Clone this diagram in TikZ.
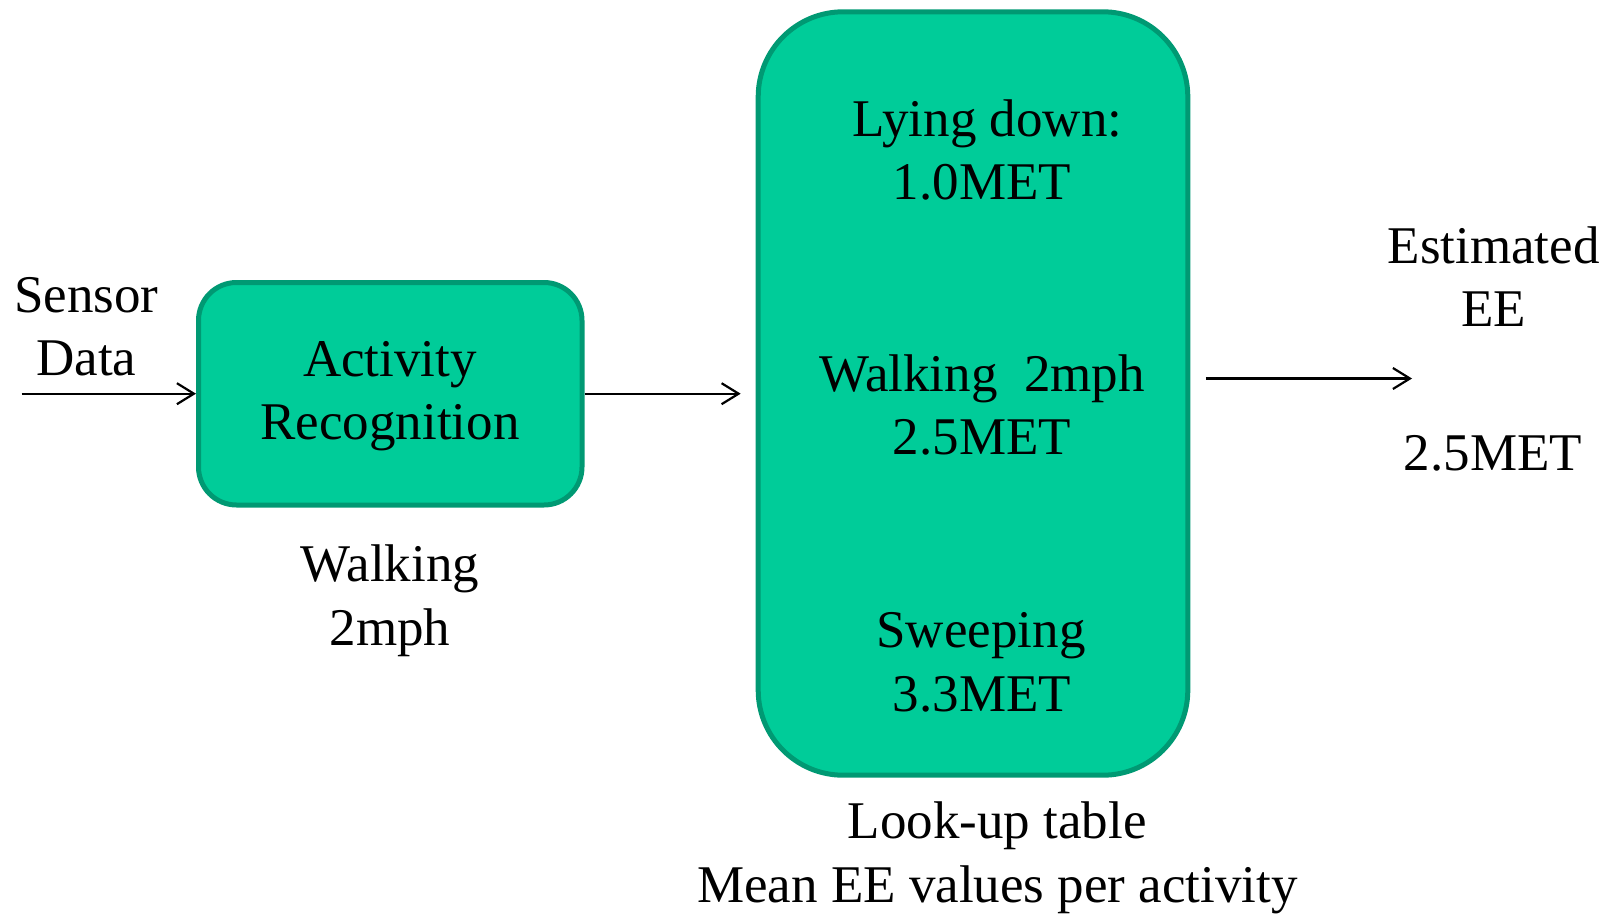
\documentclass[tikz,border=0pt]{standalone}
\usepackage{fontspec}
\setmainfont{Liberation Serif}
\usetikzlibrary{arrows.meta}
\definecolor{boxfill}{RGB}{0,204,153}
\definecolor{boxline}{RGB}{0,153,115}
\tikzset{
  block/.style={draw=boxline, fill=boxfill, line width=5pt, inner sep=0pt},
  txt/.style={inner sep=0pt, anchor=base, font=\fontsize{53}{63.8}\selectfont},
  flow/.style={line width=2.2pt, -{Straight Barb[length=17pt,width=21pt]}}
}
\begin{document}
\begin{tikzpicture}[x=1pt,y=-1pt]
\useasboundingbox (0,0) rectangle (1613,915);

% processing blocks
\node[block, rounded corners=38pt, minimum width=383.5pt, minimum height=222.5pt] (ar) at (390.25,393.75) {};
\node[block, rounded corners=85pt, minimum width=429.6pt, minimum height=763.4pt] (lut) at (973,393.5) {};

% input label
\node[txt] (sensA) at (86.4,312) {Sensor};
\node[txt] (sensB) at (86.4,375) {Data};

% activity recognition block text
\node[txt] (arA) at (390,376) {Activity};
\node[txt] (arB) at (390,439) {Recognition};
\node[txt] (wkA) at (390,581) {Walking};
\node[txt] (wkB) at (390,645) {2mph};

% look-up table entries
\node[txt] (lyA) at (987.6,136) {Lying down:};
\node[txt] (lyB) at (982,199.6) {1.0MET};
\node[txt] (waA) at (982,391) {Walking\ \ 2mph};
\node[txt] (waB) at (982,454.7) {2.5MET};
\node[txt] (swA) at (981,647) {Sweeping};
\node[txt] (swB) at (982,711) {3.3MET};
\node[txt] (ltA) at (997.3,838.5) {Look-up table};
\node[txt] (ltB) at (997.3,902) {Mean EE values per activity};

% output label
\node[txt] (esA) at (1493.7,263) {Estimated};
\node[txt] (esB) at (1493.7,326) {EE};
\node[txt] (esC) at (1493,470) {2.5MET};

% connectors
\coordinate (src) at (21.6,393.7);
\coordinate (dst) at (1412,378.5);
\draw[flow] (src) -- (ar.west |- src);
\draw[flow, shorten >=15pt] (ar.east |- src) -- (lut.west |- src);
\draw[flow, shorten <=15.5pt] (lut.east |- dst) -- (dst);
\end{tikzpicture}
\end{document}
